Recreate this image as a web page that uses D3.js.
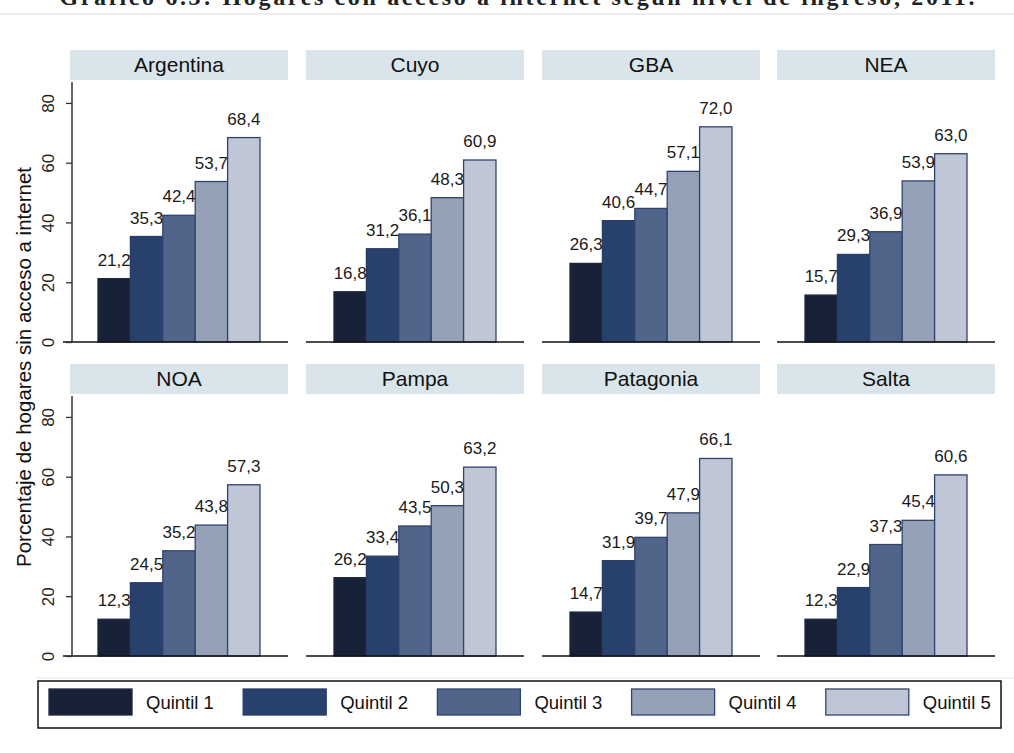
<!DOCTYPE html>
<html>
<head>
<meta charset="utf-8">
<script src="https://cdn.jsdelivr.net/npm/d3@7"></script>
<style>
  body { margin: 0; background: #fff; }
  text { font-family: "Liberation Sans", Arial, sans-serif; fill: #111; }
</style>
</head>
<body>
<div id="chart"></div>
<script>
// donnees du graphique
const regions = ["Argentina", "Cuyo", "GBA", "NEA", "NOA", "Pampa", "Patagonia", "Salta"];
const quintiles = ["Quintil 1", "Quintil 2", "Quintil 3", "Quintil 4", "Quintil 5"];
const valArgentina = [21.2, 35.3, 42.4, 53.7, 68.4];
const valCuyo      = [16.8, 31.2, 36.1, 48.3, 60.9];
const valGBA       = [26.3, 40.6, 44.7, 57.1, 72.0];
const valNEA       = [15.7, 29.3, 36.9, 53.9, 63.0];
const valNOA       = [12.3, 24.5, 35.2, 43.8, 57.3];
const valPampa     = [26.2, 33.4, 43.5, 50.3, 63.2];
const valPatagonia = [14.7, 31.9, 39.7, 47.9, 66.1];
const valSalta     = [12.3, 22.9, 37.3, 45.4, 60.6];
const yTicks = [0, 20, 40, 60, 80];
const titre = "Gráfico 6.3: Hogares con acceso a internet según nivel de ingreso, 2011.";
const titreY = "Porcentaje de hogares sin acceso a internet";

const valeurs = [valArgentina, valCuyo, valGBA, valNEA, valNOA, valPampa, valPatagonia, valSalta];

// dimensions
const W = 1014, H = 753;
const colX = [70, 306, 542, 777];   // bord gauche des bandeaux
const rowY = [50, 364];             // haut des bandeaux
const stripW = 218, stripH = 30;
const plotH = 292;                  // du haut du bandeau a la ligne de base

const couleurs = ["#172137", "#27406c", "#51658b", "#95a1b6", "#bfc6d5"];
const bords    = ["#1d2840", "#2a3d68", "#2f4370", "#2f4370", "#2f4370"];

const fmt = d3.formatLocale({decimal: ",", thousands: ".", grouping: [3], currency: ["$", ""]}).format(".1f");

const svg = d3.select("#chart").append("svg")
  .attr("width", W).attr("height", H);

// titre (coupe en haut comme sur l'original)
svg.append("text")
  .attr("x", 517).attr("y", 5)
  .attr("text-anchor", "middle")
  .attr("textLength", 915)
  .style("font-family", "'Liberation Serif', serif")
  .style("font-size", "24px")
  .style("font-weight", "bold")
  .style("fill", "#222")
  .text(titre);
svg.append("line").attr("x1", 0).attr("x2", W).attr("y1", 14).attr("y2", 14)
  .attr("stroke", "#e3e9e9").attr("stroke-width", 1.5);
svg.append("line").attr("x1", 37).attr("x2", W).attr("y1", 678).attr("y2", 678)
  .attr("stroke", "#eceeee").attr("stroke-width", 1.5);

regions.forEach((reg, i) => {
  const c = i % 4, r = Math.floor(i / 4);
  const x0 = colX[c], top = rowY[r];
  const base = top + plotH;
  const g = svg.append("g");

  const y = d3.scaleLinear().domain([0, 87]).range([base, base - 260]);
  const x = d3.scaleBand().domain(quintiles).range([x0 + 28, x0 + 190]).padding(0);

  // bandeau
  g.append("rect")
    .attr("x", x0).attr("y", top).attr("width", stripW).attr("height", stripH)
    .attr("fill", "#d9e5eb");
  g.append("text")
    .attr("x", x0 + stripW / 2).attr("y", top + 22)
    .attr("text-anchor", "middle")
    .style("font-size", "21px")
    .text(reg);

  // barres
  g.selectAll("rect.bar")
    .data(valeurs[i])
    .join("rect")
      .attr("class", "bar")
      .attr("x", (d, k) => x(quintiles[k]))
      .attr("width", x.bandwidth())
      .attr("y", d => y(d))
      .attr("height", d => y(0) - y(d))
      .attr("fill", (d, k) => couleurs[k])
      .attr("stroke", (d, k) => bords[k])
      .attr("stroke-width", 1.3);

  // ligne de base
  g.append("line")
    .attr("x1", c === 0 ? x0 - 7 : x0).attr("x2", x0 + stripW)
    .attr("y1", base).attr("y2", base)
    .attr("stroke", "#111").attr("stroke-width", 1.5);

  // etiquettes
  g.selectAll("text.lab")
    .data(valeurs[i])
    .join("text")
      .attr("class", "lab")
      .attr("x", (d, k) => x(quintiles[k]) + x.bandwidth() / 2)
      .attr("y", d => y(d) - 13)
      .attr("text-anchor", "middle")
      .style("font-size", "17px")
      .style("fill", "#1a1a1a")
      .text(d => fmt(d));

  // axe y seulement pour la premiere colonne
  if (c === 0) {
    const ax = g.append("g")
      .attr("transform", `translate(${x0 + 2},0)`)
      .call(d3.axisLeft(y).tickValues(yTicks).tickSize(6).tickSizeOuter(0));
    ax.select(".domain")
      .attr("d", `M0,${top + 32}V${base}`)
      .attr("stroke", "#333").attr("stroke-width", 1.5);
    ax.selectAll(".tick line").attr("stroke", "#333").attr("stroke-width", 1.3);
    ax.selectAll(".tick text")
      .attr("transform", "rotate(-90)")
      .attr("x", 0).attr("y", -24).attr("dy", "0.35em")
      .attr("text-anchor", "middle")
      .style("font-size", "17px")
      .style("font-family", "'Liberation Sans', Arial, sans-serif")
      .style("fill", "#222");
  }
});

// titre axe y
svg.append("text")
  .attr("transform", "translate(31,367) rotate(-90)")
  .attr("text-anchor", "middle")
  .style("font-size", "20.5px")
  .text(titreY);

// legende
const leg = svg.append("g");
leg.append("rect")
  .attr("x", 38).attr("y", 681).attr("width", 963).attr("height", 47)
  .attr("fill", "#fff").attr("stroke", "#111").attr("stroke-width", 1.5);
const legItem = leg.selectAll("g.item")
  .data(quintiles)
  .join("g")
    .attr("class", "item")
    .attr("transform", (d, k) => `translate(${49 + k * 194.2},689)`);
legItem.append("rect")
  .attr("width", 83).attr("height", 26)
  .attr("fill", (d, k) => couleurs[k])
  .attr("stroke", (d, k) => bords[k])
  .attr("stroke-width", 1.3);
legItem.append("text")
  .attr("x", 97).attr("y", 20)
  .style("font-size", "18.5px")
  .text(d => d);
</script>
</body>
</html>
